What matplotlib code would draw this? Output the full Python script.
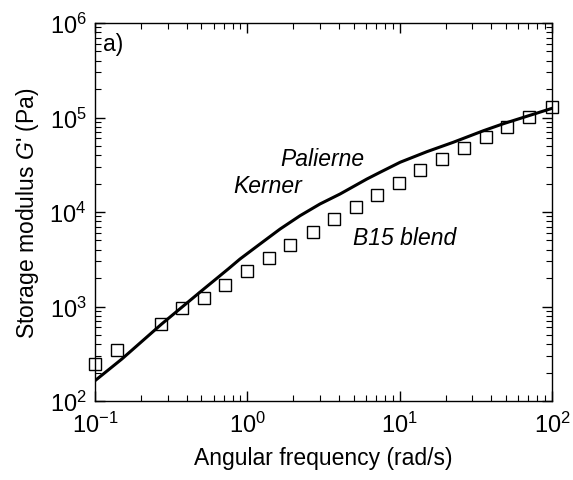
import matplotlib
matplotlib.use("Agg")
import matplotlib.pyplot as plt
from matplotlib.ticker import LogLocator, NullFormatter, FuncFormatter
import numpy as np

plt.rcParams['font.family'] = ['Liberation Sans', 'DejaVu Sans']
plt.rcParams['mathtext.fontset'] = 'custom'
plt.rcParams['mathtext.rm'] = 'Liberation Sans'
plt.rcParams['mathtext.it'] = 'Liberation Sans:italic'

# measured B15 blend data (square symbols)
omega_data = [0.1, 0.139, 0.27, 0.37, 0.52, 0.715, 1.0, 1.39, 1.92, 2.69, 3.7,
              5.14, 7.14, 9.96, 13.7, 19.0, 26.6, 36.7, 51.0, 71.0, 100.0]
g_data = [245, 347, 650, 960, 1220, 1700, 2400, 3300, 4500, 6100, 8400,
          11400, 15300, 20300, 27500, 36000, 47500, 62000, 80000, 101000, 130000]

# Palierne / Kerner model curve
omega_model = [0.1, 0.15, 0.274, 0.502, 0.75, 0.895, 1.21, 1.64, 2.22, 3.0,
               4.06, 6.08, 7.43, 10.07, 15.1, 22.5, 35.5, 48.0, 100.0]
g_model = [164, 278, 653, 1470, 2500, 3180, 4580, 6600, 9140, 12160,
           15500, 22300, 26300, 33600, 43500, 54700, 72500, 86000, 125000]

fig = plt.figure(figsize=(5.73, 4.81), dpi=100)
ax = fig.add_axes([95 / 573, 1 - 402 / 481, 457 / 573, 378 / 481])

ax.plot(omega_model, g_model, color='black', lw=2.2, solid_joinstyle='round')
ax.plot(omega_data, g_data, ls='none', marker='s', ms=9, mfc='none',
        mec='black', mew=1.0, clip_on=False, zorder=3)

ax.set_xscale('log')
ax.set_yscale('log')
ax.set_xlim(0.1, 100)
ax.set_ylim(100, 1e6)

fmt = FuncFormatter(lambda v, p: r'$\mathregular{10^{%d}}$' % int(round(np.log10(v))))
ax.xaxis.set_major_locator(LogLocator(base=10, numticks=10))
ax.yaxis.set_major_locator(LogLocator(base=10, numticks=10))
ax.xaxis.set_major_formatter(fmt)
ax.yaxis.set_major_formatter(fmt)
ax.xaxis.set_minor_locator(LogLocator(base=10, subs=range(2, 10), numticks=20))
ax.yaxis.set_minor_locator(LogLocator(base=10, subs=range(2, 10), numticks=20))
ax.xaxis.set_minor_formatter(NullFormatter())
ax.yaxis.set_minor_formatter(NullFormatter())

ax.tick_params(which='both', direction='in', top=True, right=True, labelsize=17)
ax.tick_params(which='major', length=7, width=1)
ax.tick_params(which='minor', length=4, width=0.8)
ax.tick_params(axis='x', pad=8)
ax.tick_params(axis='y', pad=6)
for s in ax.spines.values():
    s.set_linewidth(1.0)

ax.set_xlabel('Angular frequency (rad/s)', fontsize=16.5, labelpad=6)
ax.set_ylabel("Storage modulus $\\mathit{G}$' (Pa)", fontsize=16.5, labelpad=6)

ax.text(0.113, 6.1e5, 'a)', fontsize=16.5, ha='left', va='center')
ax.text(3.09, 3.64e4, 'Palierne', fontsize=16.5, style='italic', ha='center', va='center')
ax.text(1.37, 1.93e4, 'Kerner', fontsize=16.5, style='italic', ha='center', va='center')
ax.text(10.7, 5.43e3, 'B15 blend', fontsize=16.5, style='italic', ha='center', va='center')

fig.savefig('out.png', dpi=100)
